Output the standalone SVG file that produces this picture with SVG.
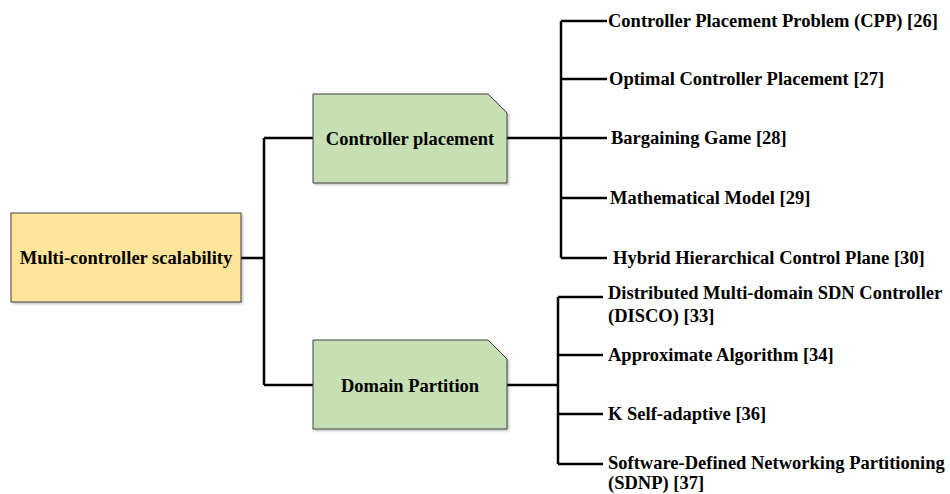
<svg xmlns="http://www.w3.org/2000/svg" width="950" height="494" viewBox="0 0 950 494">
<style>
.t{font-family:"Liberation Serif","Times New Roman",serif;font-weight:bold;font-size:18.5px;fill:#000}
.c{text-anchor:middle}
.ln{stroke:#000;stroke-width:2.5;fill:none}
.box{stroke:#404040;stroke-width:1}
</style>
<defs>
<filter id="sh" x="-5%" y="-5%" width="115%" height="120%">
<feDropShadow dx="1.5" dy="1.5" stdDeviation="1" flood-color="#000" flood-opacity="0.25"/>
</filter>
</defs>
<g id="connectors">
<path class="ln" d="M241 258H264M264 138V385M264 138H313M264 385H313"/>
<path class="ln" d="M507 138H561M561 21V258M561 21H607M561 79H607M561 138H607M561 198H607M561 258H607"/>
<path class="ln" d="M507 385H558M558 297V464M558 297H603M558 355H603M558 414H603M558 464H603"/>
</g>
<g id="root">
<rect class="box" x="11" y="213" width="230" height="89" fill="#FFE599" filter="url(#sh)"/>
<text class="t c" x="126" y="264">Multi-controller scalability</text>
</g>
<g id="controller-placement">
<path class="box" d="M313 94H488L507 113V183H313Z" fill="#C6E0B4" filter="url(#sh)"/>
<text class="t c" x="410" y="145">Controller placement</text>
</g>
<g id="domain-partition">
<path class="box" d="M313 340H488L507 359V429H313Z" fill="#C6E0B4" filter="url(#sh)"/>
<text class="t c" x="410" y="392">Domain Partition</text>
</g>
<g id="cpp"><text class="t" x="608" y="27">Controller Placement Problem (CPP) [26]</text></g>
<g id="ocp"><text class="t" x="609" y="85">Optimal Controller Placement [27]</text></g>
<g id="bg"><text class="t" x="611" y="144">Bargaining Game [28]</text></g>
<g id="mm"><text class="t" x="610" y="204">Mathematical Model [29]</text></g>
<g id="hhcp"><text class="t" x="613" y="264">Hybrid Hierarchical Control Plane [30]</text></g>
<g id="disco"><text class="t" x="608" y="299">Distributed Multi-domain SDN Controller<tspan x="608" y="322">(DISCO) [33]</tspan></text></g>
<g id="aa"><text class="t" x="608" y="361">Approximate Algorithm [34]</text></g>
<g id="ksa"><text class="t" x="608" y="420">K Self-adaptive [36]</text></g>
<g id="sdnp"><text class="t" x="608" y="469">Software-Defined Networking Partitioning<tspan x="608" y="489">(SDNP) [37]</tspan></text></g>
</svg>
